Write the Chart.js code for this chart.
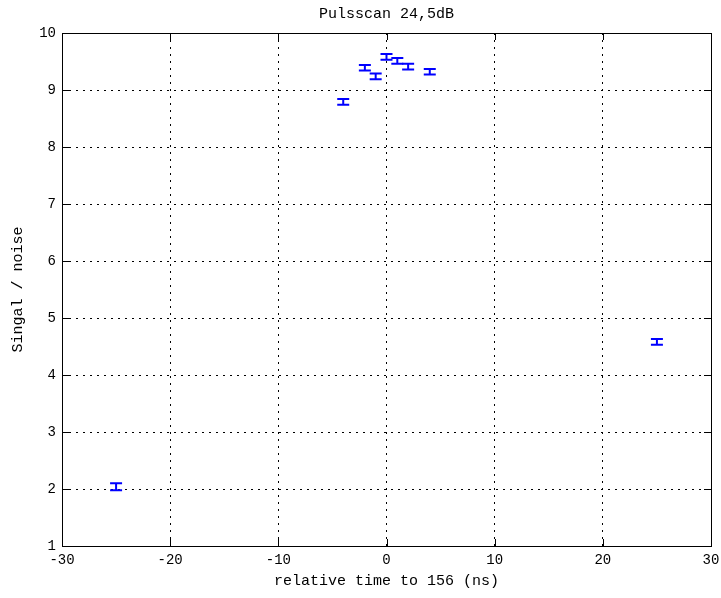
<!DOCTYPE html>
<html>
<head>
<meta charset="utf-8">
<script src="https://cdn.jsdelivr.net/npm/chart.js@4"></script>
<style>
  html, body { margin: 0; padding: 0; background: #fff; }
  #wrap { width: 721px; height: 598px; }
</style>
</head>
<body>
<div id="wrap"><canvas id="scanChart" width="721" height="598"></canvas></div>
<script>
// Pulse scan measurements: time offset (ns), signal/noise and its error
const timeOffsets = [-25, -4, -2, -1, 0, 1, 2, 4, 25];
const snrValues   = [2.04, 8.79, 9.39, 9.24, 9.58, 9.51, 9.41, 9.32, 4.58];
const snrErrors   = [0.06, 0.05, 0.05, 0.05, 0.05, 0.05, 0.05, 0.05, 0.05];

const xTicks = [-30, -20, -10, 0, 10, 20, 30];
const yTicks = [1, 2, 3, 4, 5, 6, 7, 8, 9, 10];

const monoFont = '"Liberation Mono", "DejaVu Sans Mono", monospace';
const blue = '#0000ff';

// error bars with caps, drawn from the same scales as the data
const errorBars = {
  id: 'errorBars',
  afterDatasetsDraw(chart) {
    const { ctx, scales: { x, y } } = chart;
    ctx.save();
    ctx.strokeStyle = blue;
    ctx.lineWidth = 2;
    timeOffsets.forEach((t, i) => {
      const px = x.getPixelForValue(t);
      const top = y.getPixelForValue(snrValues[i] + snrErrors[i]);
      const bot = y.getPixelForValue(snrValues[i] - snrErrors[i]);
      ctx.beginPath();
      ctx.moveTo(px, top); ctx.lineTo(px, bot);
      ctx.moveTo(px - 6, top); ctx.lineTo(px + 6, top);
      ctx.moveTo(px - 6, bot); ctx.lineTo(px + 6, bot);
      ctx.stroke();
    });
    ctx.restore();
  }
};

// box, inward tick marks and the text around the axes
const frame = {
  id: 'frame',
  afterDraw(chart) {
    const { ctx, chartArea: a, scales: { x, y } } = chart;
    ctx.save();
    ctx.strokeStyle = '#000';
    ctx.lineWidth = 1;
    ctx.strokeRect(Math.round(a.left) + 0.5, Math.round(a.top) + 0.5,
      Math.round(a.right - a.left), Math.round(a.bottom - a.top));
    ctx.beginPath();
    xTicks.forEach(v => {
      const px = Math.round(x.getPixelForValue(v)) + 0.5;
      ctx.moveTo(px, a.bottom); ctx.lineTo(px, a.bottom - 7);
      ctx.moveTo(px, a.top); ctx.lineTo(px, a.top + 7);
    });
    yTicks.forEach(v => {
      const py = Math.round(y.getPixelForValue(v)) + 0.5;
      ctx.moveTo(a.left, py); ctx.lineTo(a.left + 7, py);
      ctx.moveTo(a.right, py); ctx.lineTo(a.right - 7, py);
    });
    ctx.stroke();

    ctx.fillStyle = '#000';
    ctx.font = '15px ' + monoFont;
    ctx.textAlign = 'center';
    ctx.textBaseline = 'middle';
    const cx = (a.left + a.right) / 2;
    ctx.fillText('Pulsscan 24,5dB', cx, 14);
    ctx.fillText('relative time to 156 (ns)', cx, 581);
    ctx.translate(18, (a.top + a.bottom) / 2);
    ctx.rotate(-Math.PI / 2);
    ctx.fillText('Singal / noise', 0, 0);
    ctx.restore();
  }
};

const gridStyle = { color: '#000', drawTicks: false, lineWidth: 1 };
const dotted = { display: false, dash: [2, 5] };

new Chart(document.getElementById('scanChart'), {
  type: 'scatter',
  data: {
    datasets: [{
      data: timeOffsets.map((t, i) => ({ x: t, y: snrValues[i] })),
      pointRadius: 0,
      showLine: false
    }]
  },
  options: {
    responsive: false,
    animation: false,
    layout: { padding: { left: 0, right: 10, top: 33, bottom: 0 } },
    plugins: { legend: { display: false }, tooltip: { enabled: false } },
    scales: {
      x: {
        type: 'linear',
        min: -30, max: 30,
        afterFit: s => { s.height = 52; s.paddingLeft = 0; s.paddingRight = 0; },
        afterBuildTicks: s => { s.ticks = xTicks.map(v => ({ value: v })); },
        border: dotted,
        grid: gridStyle,
        ticks: { padding: 6, color: '#000', font: { family: monoFont, size: 14 }, maxRotation: 0 }
      },
      y: {
        type: 'linear',
        min: 1, max: 10,
        afterFit: s => { s.width = 62; s.paddingTop = 0; s.paddingBottom = 0; },
        afterBuildTicks: s => { s.ticks = yTicks.map(v => ({ value: v })); },
        border: dotted,
        grid: gridStyle,
        ticks: { padding: 6, color: '#000', font: { family: monoFont, size: 14 } }
      }
    }
  },
  plugins: [errorBars, frame]
});
</script>
</body>
</html>
